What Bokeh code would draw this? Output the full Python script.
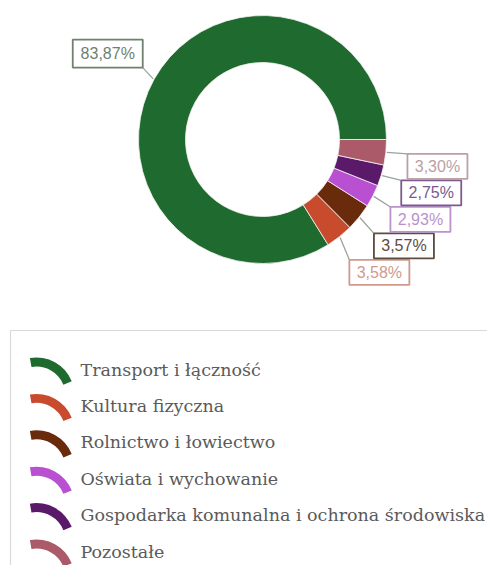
import numpy as np
from bokeh.plotting import figure
from bokeh.models import Range1d, ColumnDataSource
from bokeh.core.properties import value
from bokeh.embed import file_html
from bokeh.resources import INLINE

# ---- data ----
categories = [
    "Transport i łączność",
    "Kultura fizyczna",
    "Rolnictwo i łowiectwo",
    "Oświata i wychowanie",
    "Gospodarka komunalna i ochrona środowiska",
    "Pozostałe",
]
shares = [83.87, 3.58, 3.57, 2.93, 2.75, 3.30]
labels = ["83,87%", "3,58%", "3,57%", "2,93%", "2,75%", "3,30%"]
colors = ["#1f6b2f", "#c84b2d", "#6a2a0c", "#b950d2", "#5a1a69", "#aa5a69"]
label_colors = ["#6f806f", "#cf9a8c", "#5e4c3e", "#bb92cc", "#7a5a8c", "#bba0a4"]

# ---- layout (data units = screen pixels, y up, page height 581) ----
W, H = 487, 565
TOP = 581
CX, CY = 262, TOP - 139      # donut centre
R_OUT, R_IN = 124, 77
R_LAB = 177
STACK = 26.5

p = figure(width=W, height=H, x_range=Range1d(0, W), y_range=Range1d(TOP - H, TOP),
           output_backend="svg", toolbar_location=None, min_border=0,
           x_axis_location=None, y_axis_location=None)
p.grid.visible = False
p.outline_line_color = None
p.background_fill_color = "white"

frac = np.array(shares) / sum(shares)
ends = 2 * np.pi * np.cumsum(frac)
starts = ends - 2 * np.pi * frac
mids = (starts + ends) / 2

src = ColumnDataSource(dict(start=starts, end=ends, color=colors))
p.annular_wedge(x=CX, y=CY, inner_radius=R_IN, outer_radius=R_OUT,
                start_angle="start", end_angle="end", fill_color="color",
                line_color="#f4f4f4", line_width=0.8, source=src)

# label positions: radial, small ones stacked evenly
lx = CX + R_LAB * np.cos(mids)
ly = CY + R_LAB * np.sin(mids)
small_idx = np.arange(1, len(shares))
order = small_idx[np.argsort(ly[small_idx])]
mean_y = ly[small_idx].mean()
for rank, i in enumerate(order):
    ly[i] = mean_y + (rank - (len(order) - 1) / 2) * STACK
    lx[i] = CX + np.sqrt(R_LAB ** 2 - (ly[i] - CY) ** 2)

bw = np.array([10 + 10 * len(s) for s in labels], dtype=float)
bh = np.where(np.arange(len(labels)) == 0, 28.0, 25.0)

# leader lines: from outer edge at mid-angle to nearest point of box
sx = CX + (R_OUT + 1) * np.cos(mids)
sy = CY + (R_OUT + 1) * np.sin(mids)
ex = np.clip(sx, lx - bw / 2, lx + bw / 2)
ey = np.clip(sy, ly - bh / 2, ly + bh / 2)
p.segment(x0=sx, y0=sy, x1=ex, y1=ey, line_color="#9aa49a", line_width=1.3)

lab_src = ColumnDataSource(dict(x=lx, y=ly, w=bw, h=bh, text=labels, c=label_colors))
p.rect(x="x", y="y", width="w", height="h", fill_color="white",
       line_color="c", line_width=1.8, source=lab_src)
p.text(x="x", y="y", text="text", text_color="c", text_align="center",
       text_baseline="middle", text_font=value("Liberation Sans"),
       text_font_size="16px", source=lab_src)

# ---- legend ----
p.quad(left=10, right=W + 40, top=TOP - 330, bottom=TOP - H - 40, fill_color=None,
       line_color="#d9d9d9", line_width=1.2)
ROW0, ROW_STEP = TOP - 369, 36.4
rows = ROW0 - ROW_STEP * np.arange(len(categories))
leg_src = ColumnDataSource(dict(y=rows, iy=rows - 26, text=categories, color=colors))
p.annular_wedge(x=36, y="iy", inner_radius=29, outer_radius=38,
                start_angle=np.deg2rad(22), end_angle=np.deg2rad(100),
                fill_color="color", line_color=None, source=leg_src)
p.text(x=80, y="y", text="text", text_color="#5a5a5a", text_align="left",
       text_baseline="middle", text_font=value("DejaVu Serif"),
       text_font_size="17.5px", source=leg_src)

open("out.html", "w").write(file_html(p, INLINE))
